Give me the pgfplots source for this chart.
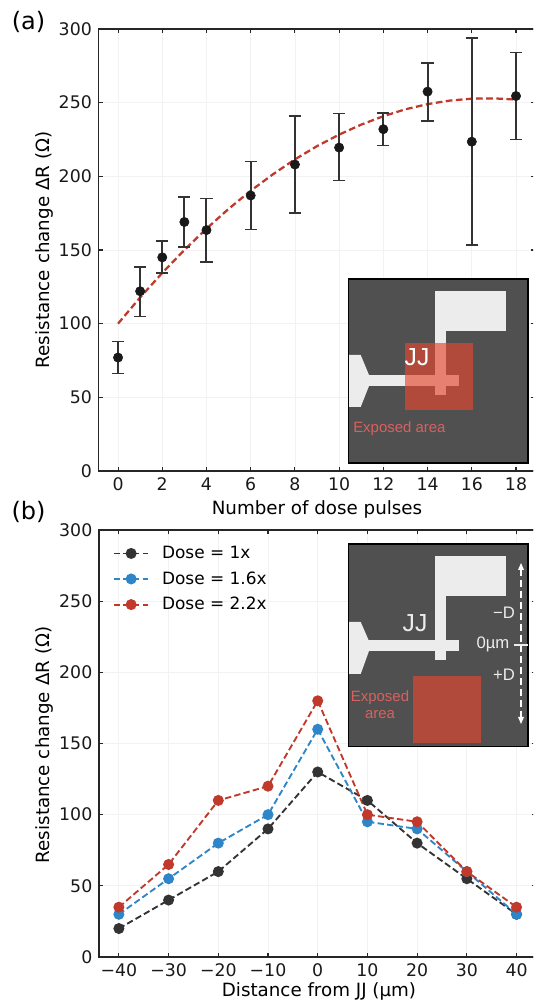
\documentclass[border=0pt]{standalone}
\usepackage{pgfplots}
\usepackage{pgfplotstable}
\usepackage{fontspec}
\setmainfont{DejaVu Sans}
\newfontfamily\insetfont{Liberation Sans}
\pgfplotsset{compat=1.18}
\definecolor{myred}{HTML}{C0392B}
\definecolor{myblue}{HTML}{2E86C8}
\definecolor{mygray}{HTML}{333333}
\definecolor{insetbg}{HTML}{4D4D4D}
\definecolor{padw}{HTML}{ECECEC}
\definecolor{exprect}{RGB}{229,72,45}
\definecolor{exptext}{HTML}{D9605F}
\pgfplotstableread{
x y ep em
0 77 11 11
1 122 16.5 17
2 145 11 10.5
3 169 17 17
4 163.5 21.5 21.5
6 187 23 23
8 208 33 33
10 219.5 23 22.5
12 232 11 11
14 257.5 19.5 20
16 223.5 70.5 70
18 254.5 29.5 29.5
}\pulses
\pgfplotstableread{
x y
0 100
1 117.8
2 134.4
3 150
4 164.5
5 177.9
6 190.2
7 201.3
8 211.5
9 220.5
10 228.3
11 235.1
12 240.8
13 245.5
14 249
15 251.4
16 252.7
17 252.9
18 252.1
}\fit
\pgfplotstableread{
x a b c
-40 20 30 35
-30 40 55 65
-20 60 80 110
-10 90 100 120
0 130 160 180
10 110 95 100
20 80 90 95
30 55 60 60
40 30 30 35
}\dose
\pgfplotsset{
  panel/.style={
    scale only axis,
    axis line style={line width=1.1pt,color=black!85},
    tick style={line width=0.8pt,color=black!85},
    major tick length=3pt,
    tick align=inside,
    xtick pos=both, ytick pos=both,
    grid=major,
    major grid style={line width=0.6pt,color=black!5},
    ticklabel style={font=\fontsize{13}{15}\selectfont,text=black!90},
    xticklabel style={yshift=-1.5pt},
    yticklabel style={xshift=-1.5pt},
    /pgf/number format/assume math mode=true,
    ymin=0, ymax=300, ytick={0,50,...,300},
    clip=false,
  },
  dplot/.style={line width=1.4pt,dash pattern=on 4.8pt off 2.4pt,mark=*,mark size=3.4pt,mark options={solid}},
}
\begin{document}
\begin{tikzpicture}[x=1pt,y=1pt]
\useasboundingbox (0,0) rectangle (399.75pt,751.5pt);
\clip (0,0) rectangle (399.75pt,751.5pt);
% panel (a)
\begin{axis}[panel,
  at={(73.9pt,398.25pt)}, anchor=south west,
  width=327.7pt, height=331.5pt,
  xmin=-0.882, xmax=18.88,
  xtick={0,2,...,18},
]
\addplot[myred,line width=1.7pt,dash pattern=on 5pt off 2.6pt] table[x=x,y=y] {\fit};
\addplot[only marks,mark=*,mark size=3.5pt,color=black!90,mark options={fill=black!90,draw=black!90},
  error bars/.cd,y dir=both,y explicit,
  error bar style={line width=1.5pt,color=mygray},
  error mark options={rotate=90,mark size=4.6pt,line width=1.1pt,color=mygray}]
  table[x=x,y=y,y error plus=ep,y error minus=em] {\pulses};
\end{axis}
% panel (b)
\begin{axis}[panel,
  at={(74.25pt,33.75pt)}, anchor=south west,
  width=327.7pt, height=320.25pt,
  xmin=-44, xmax=43.9,
  xtick={-40,-30,...,40},
  xticklabels={−40,−30,−20,−10,0,10,20,30,40},
  legend cell align=left,
  legend style={at={(rel axis cs:0.022,0.975)},anchor=north west,draw=none,fill=none,
    font=\fontsize{12.7}{15}\selectfont,row sep=4.3pt,
    /tikz/every odd column/.append style={column sep=7.5pt}},
  legend image code/.code={
    \draw[#1,mark=none] (0,0) -- (26pt,0);
    \path plot[#1,solid,mark=*,mark size=3.4pt] coordinates {(13pt,0)};
  },
]
\addplot[mygray,mark options={fill=mygray,draw=mygray,opacity=.95},dplot] table[x=x,y=a] {\dose};
\addlegendentry{Dose = 1x}
\addplot[myblue,mark options={fill=myblue,draw=myblue},dplot] table[x=x,y=b] {\dose};
\addlegendentry{Dose = 1.6x}
\addplot[myred,mark options={fill=myred,draw=myred},dplot] table[x=x,y=c] {\dose};
\addlegendentry{Dose = 2.2x}
\end{axis}
% annotation layer, coordinates in reference pixels
\begin{scope}[x=0.75pt,y=-0.75pt,yshift=751.5pt]
\node[font=\fontsize{18}{20}\selectfont,anchor=center] at (28.5,21.5) {(a)};
\node[font=\fontsize{18}{20}\selectfont,anchor=center] at (28.5,512) {(b)};
\node[font=\fontsize{13.7}{15}\selectfont,rotate=90] at (44.5,250) {Resistance change ΔR (Ω)};
\node[font=\fontsize{13.7}{15}\selectfont,rotate=90] at (44.5,745) {Resistance change ΔR (Ω)};
\node[font=\fontsize{13.7}{15}\selectfont] at (317,509.5) {Number of dose pulses};
\node[font=\fontsize{13.7}{15}\selectfont] at (319,991) {Distance from JJ (µm)};
% inset a
\fill[insetbg,opacity=.98] (348.5,279) rectangle (528,463);
\draw[black,line width=1.1pt] (348.5,279) rectangle (528,463);
\fill[padw] (435,291) rectangle (506,331);
\fill[padw] (435,331) rectangle (446,395);
\fill[padw] (369,375) rectangle (459,386);
\fill[padw] (349,355) -- (360.7,355) -- (369,375) -- (369,386) -- (360.7,407) -- (349,407) -- cycle;
\fill[exprect,opacity=.65] (405,343) rectangle (473,409.7);
\node[text=white,font=\insetfont\fontsize{18.5}{20}\selectfont] at (417,357) {JJ};
\node[text=exptext,font=\insetfont\fontsize{11.2}{13}\selectfont,anchor=west,inner sep=0pt] at (353,429) {Exposed area};
% inset b
\fill[insetbg,opacity=.98] (348.5,544) rectangle (528,746.5);
\draw[black,line width=1.1pt] (348.5,544) rectangle (528,746.5);
\fill[padw] (435,556) rectangle (506,596);
\fill[padw] (435,596) rectangle (446,660);
\fill[padw] (368,640) rectangle (459,651);
\fill[padw] (349,622) -- (360.7,622) -- (369,641) -- (369,651) -- (360.7,674) -- (349,674) -- cycle;
\fill[exprect,opacity=.65] (413,676) rectangle (481,743);
\node[text=padw,font=\insetfont\fontsize{18.5}{20}\selectfont] at (415,623) {JJ};
\node[text=exptext,font=\insetfont\fontsize{11.2}{13}\selectfont] at (380,698) {Exposed};
\node[text=exptext,font=\insetfont\fontsize{11.2}{13}\selectfont] at (380,715) {area};
\node[text=padw,font=\insetfont\fontsize{12.5}{14}\selectfont] at (504,613) {−D};
\node[text=padw,font=\insetfont\fontsize{12.5}{14}\selectfont] at (493,644) {0µm};
\node[text=padw,font=\insetfont\fontsize{12.5}{14}\selectfont] at (504,675) {+D};
\draw[padw,line width=0.8pt] (514,645) -- (528,645);
\draw[white,line width=1.3pt,dash pattern=on 5.2pt off 3pt] (521,569) -- (521,718);
\fill[white] (521,563) -- (518,570) -- (524,570) -- cycle;
\fill[white] (521,724) -- (518,717) -- (524,717) -- cycle;
\end{scope}
\end{tikzpicture}
\end{document}
